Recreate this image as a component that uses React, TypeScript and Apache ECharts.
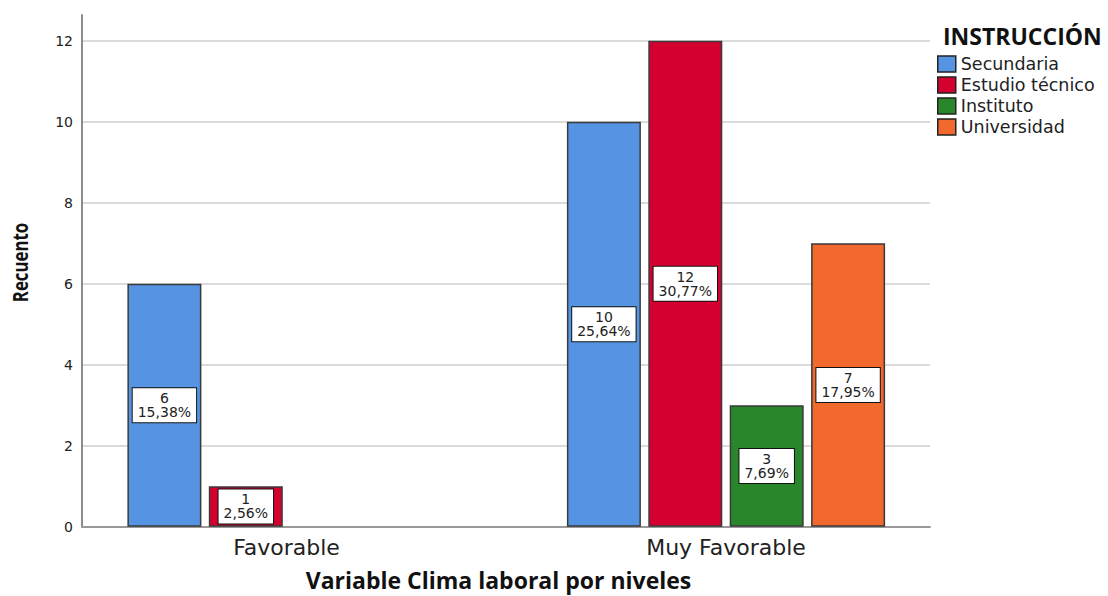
import React, { useEffect, useRef } from "react";
import * as echarts from "echarts";

// Clustered bar chart: counts per education level for each work-climate level
const categories = ["Favorable", "Muy Favorable"];
const seriesNames = ["Secundaria", "Estudio técnico", "Instituto", "Universidad"];
const secundaria = [6, 10];
const estudioTecnico = [1, 12];
const instituto = [null, 3];
const universidad = [null, 7];
const seriesColors = ["#5494E3", "#D4002F", "#2A862A", "#F1692C"];

const yMin = 0;
const yMax = 12;
const yInterval = 2;
const yAxisTop = 12.63; // axis line runs a little above the last tick

const seriesValues = [secundaria, estudioTecnico, instituto, universidad];
const total = seriesValues
  .flat()
  .reduce((s: number, v) => s + (typeof v === "number" ? v : 0), 0);

const LABEL_FONT = '"DejaVu Sans", Verdana, sans-serif';
const TITLE_FONT = '"Open Sans", "Noto Sans", sans-serif';

export default function App() {
  const ref = useRef<HTMLDivElement>(null);

  useEffect(() => {
    if (!ref.current) return;
    const chart = echarts.init(ref.current, null, { renderer: "svg" });

    const plotBottom = 69.3;
    const plotTop = 40.7;

    const option: echarts.EChartsOption = {
      animation: false,
      backgroundColor: "#ffffff",
      grid: [
        // bars
        { left: 66.75, top: plotTop, width: 879, bottom: plotBottom },
        // tick labels + gridlines
        { left: 82, top: plotTop, width: 848, bottom: plotBottom },
        // axis lines
        { left: 82, top: 15, width: 848, bottom: plotBottom },
      ],
      xAxis: [
        {
          type: "category",
          gridIndex: 0,
          data: categories,
          axisLine: { show: false },
          axisTick: { show: false },
          axisLabel: {
            margin: 10,
            fontSize: 22,
            fontFamily: LABEL_FONT,
            color: "#222",
          },
        },
        { type: "value", gridIndex: 1, show: false, min: 0, max: 1 },
        {
          type: "value",
          gridIndex: 2,
          min: 0,
          max: 1,
          axisLine: { show: true, lineStyle: { color: "#999", width: 2 } },
          axisTick: { show: false },
          axisLabel: { show: false },
          splitLine: { show: false },
        },
      ],
      yAxis: [
        { type: "value", gridIndex: 0, min: yMin, max: yMax, show: false },
        {
          type: "value",
          gridIndex: 1,
          min: yMin,
          max: yMax,
          interval: yInterval,
          axisLine: { show: false },
          axisTick: { show: false },
          axisLabel: {
            margin: 9,
            fontSize: 14,
            fontFamily: LABEL_FONT,
            color: "#222",
          },
          splitLine: { show: true, lineStyle: { color: "#cfcfcf", width: 1.5 } },
        },
        {
          type: "value",
          gridIndex: 2,
          min: yMin,
          max: yAxisTop,
          axisLine: { show: true, lineStyle: { color: "#8c8c8c", width: 2 } },
          axisTick: { show: false },
          axisLabel: { show: false },
          splitLine: { show: false },
        },
      ],
      legend: {
        orient: "vertical",
        left: 937,
        top: 55,
        padding: 0,
        itemWidth: 18,
        itemHeight: 16,
        itemGap: 3,
        icon: "rect",
        data: seriesNames,
        itemStyle: { borderColor: "#222", borderWidth: 1.5 },
        textStyle: {
          fontSize: 17.5,
          lineHeight: 16,
          fontFamily: LABEL_FONT,
          color: "#222",
        },
      },
      graphic: [
        {
          type: "text",
          left: 943,
          top: 24,
          style: {
            text: "INSTRUCCIÓN",
            fontSize: 23,
            fontWeight: "bold",
            fontFamily: TITLE_FONT,
            fill: "#111",
          },
        },
        {
          type: "text",
          x: 498.5,
          y: 580,
          style: {
            text: "Variable Clima laboral por niveles",
            fontSize: 23,
            fontWeight: "bold",
            fontFamily: TITLE_FONT,
            fill: "#111",
            align: "center",
            verticalAlign: "middle",
          },
        },
        {
          // condensed bold axis title
          type: "text",
          x: 20.5,
          y: 262.5,
          rotation: Math.PI / 2,
          scaleX: 0.8,
          style: {
            text: "Recuento",
            fontSize: 21,
            fontWeight: "bold",
            fontFamily: TITLE_FONT,
            fill: "#111",
            align: "center",
            verticalAlign: "middle",
          },
        },
      ],
      series: seriesNames.map((name, i) => ({
        name,
        type: "bar" as const,
        xAxisIndex: 0,
        yAxisIndex: 0,
        data: seriesValues[i],
        barWidth: 74,
        barGap: "10%",
        itemStyle: {
          color: seriesColors[i],
          borderColor: "#3a3a3a",
          borderWidth: 1.5,
        },
        label: {
          show: true,
          position: "inside",
          formatter: (p: any) =>
            `${p.value}\n${((p.value / total) * 100).toFixed(2).replace(".", ",")}%`,
          fontSize: 14,
          lineHeight: 14,
          fontFamily: LABEL_FONT,
          color: "#222",
          backgroundColor: "#ffffff",
          borderColor: "#111",
          borderWidth: 1,
          padding: [3, 5, 3, 5],
        },
      })),
    };

    chart.setOption(option);
    return () => chart.dispose();
  }, []);

  return (
    <div
      ref={ref}
      style={{ position: "absolute", left: 0, top: 0, width: 1108, height: 596 }}
    />
  );
}
